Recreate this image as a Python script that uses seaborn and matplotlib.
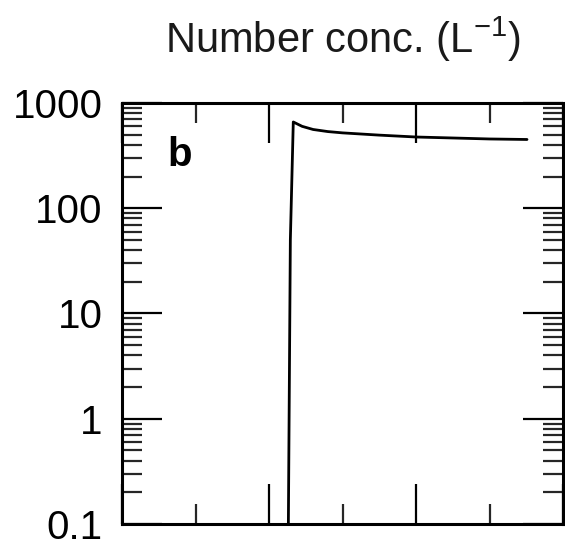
import matplotlib
matplotlib.use("Agg")
import matplotlib.pyplot as plt
import matplotlib.ticker as mticker
import seaborn as sns
import pandas as pd
import numpy as np

# Data
time_vals = [2.26, 2.29, 2.33, 2.45, 2.6, 2.8, 3.0, 3.5, 4.0, 4.5, 5.0, 5.51]
conc_vals = [0.05, 50, 660, 600, 560, 535, 520, 495, 475, 465, 455, 450]
ytick_vals = [0.1, 1, 10, 100, 1000]
ytick_labels = ["0.1", "1", "10", "100", "1000"]
title_text = "Number conc. (L$^{-1}$)"
panel_label = "b"

sns.set_theme(style="ticks")
plt.rcParams["font.family"] = ["Liberation Sans", "DejaVu Sans"]
plt.rcParams["mathtext.fontset"] = "custom"
plt.rcParams["mathtext.rm"] = "Liberation Sans"
plt.rcParams["mathtext.default"] = "regular"

df = pd.DataFrame({"t": time_vals, "n": conc_vals})

fig = plt.figure(figsize=(5.65, 5.42), dpi=100)
ax = fig.add_axes([0.216, 0.0332, 0.7805, 0.7768])

sns.lineplot(data=df, x="t", y="n", ax=ax, color="black", linewidth=2.0,
             sort=False, estimator=None)

ax.set_yscale("log")
ax.set_ylim(0.1, 1000)
ax.set_xlim(0, 6)
ax.set_yticks(ytick_vals)
ax.set_yticklabels(ytick_labels)
ax.yaxis.set_minor_locator(mticker.LogLocator(base=10, subs=np.arange(2, 10), numticks=20))
ax.yaxis.set_minor_formatter(mticker.NullFormatter())
ax.xaxis.set_major_locator(mticker.MultipleLocator(2))
ax.xaxis.set_minor_locator(mticker.MultipleLocator(1))
ax.set_xticklabels([])
ax.set_xlabel("")
ax.set_ylabel("")

ax.tick_params(axis="both", which="major", direction="in", length=29, width=1.6,
               top=True, right=True, labelsize=29, pad=14, colors="black")
ax.tick_params(axis="both", which="minor", direction="in", length=14.5, width=1.6,
               top=True, right=True)
ax.tick_params(axis="x", which="both", labelbottom=False)

for sp in ax.spines.values():
    sp.set_visible(True)
    sp.set_linewidth(2.2)
    sp.set_color("black")

ax.set_title(title_text, fontsize=30, pad=36, color="#1a1a1a")
ax.text(0.13, 0.876, panel_label, transform=ax.transAxes, fontsize=29,
        fontweight="bold", ha="center", va="center", color="black")

fig.savefig("out.png", dpi=100)
